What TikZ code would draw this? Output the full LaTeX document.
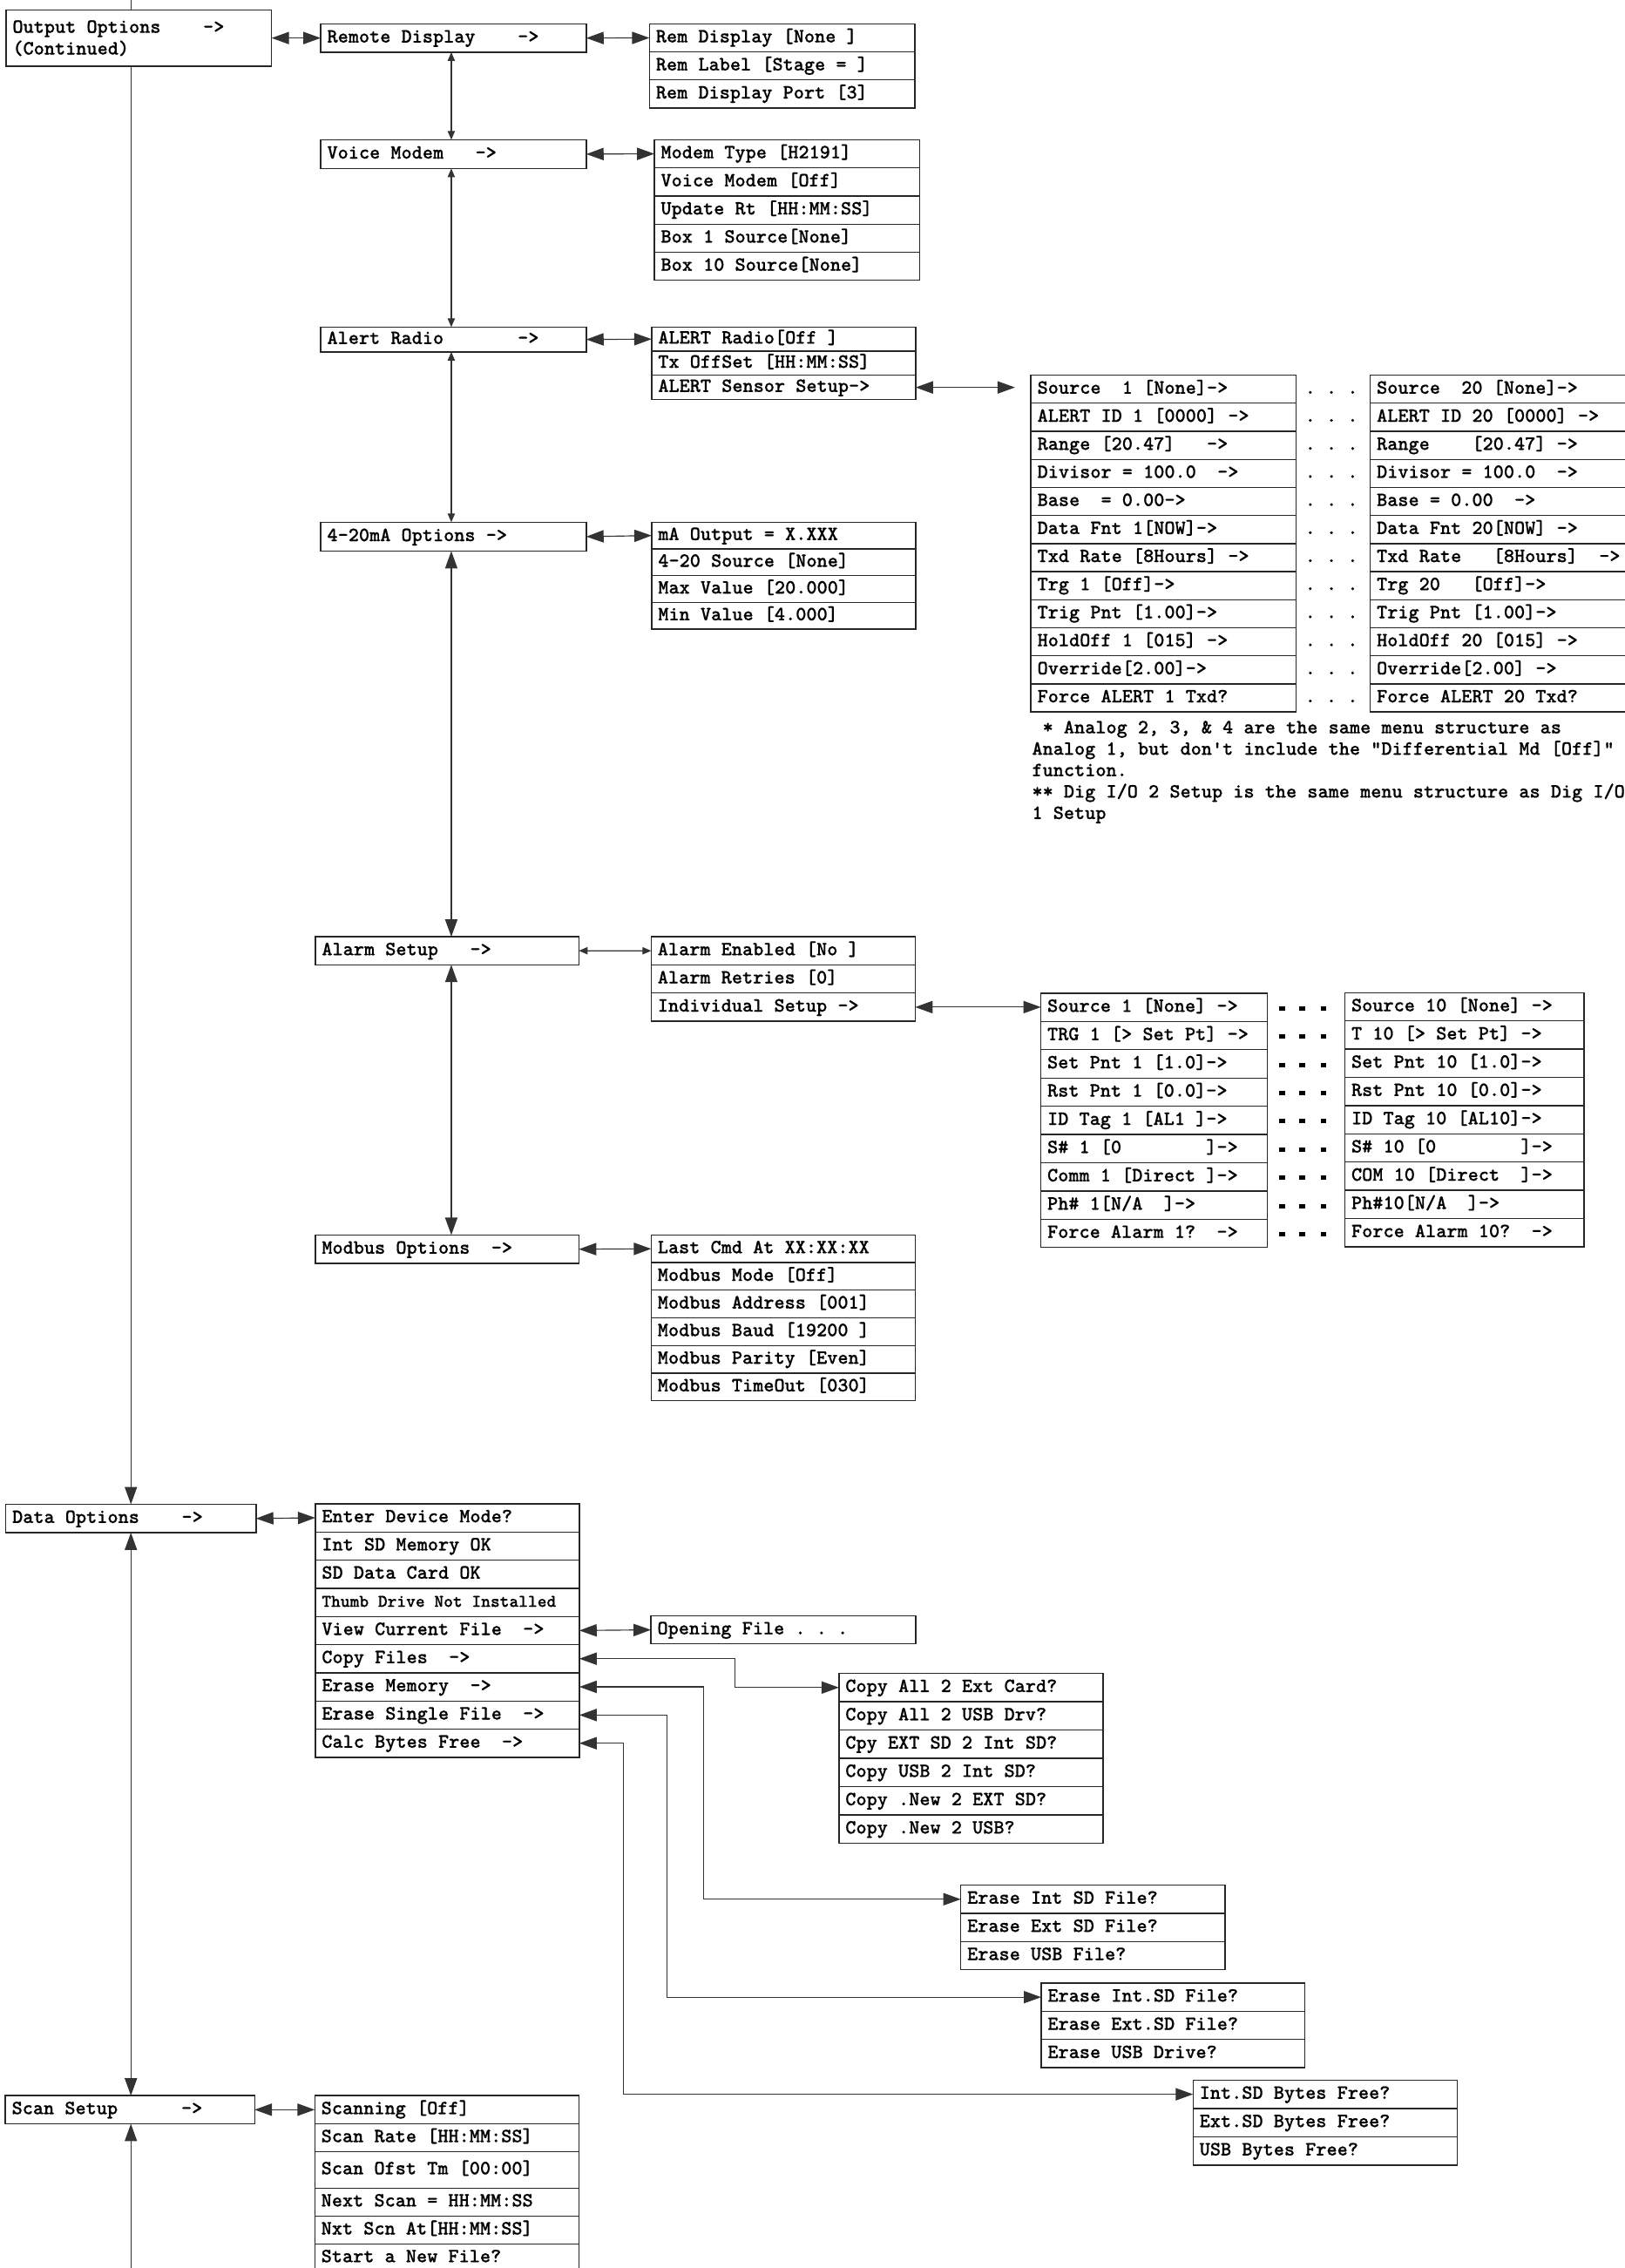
\documentclass[tikz,border=0pt]{standalone}
\usepackage{fontspec}
\setmonofont{lmmonolt10-regular.otf}[BoldFont=lmmonolt10-bold.otf, BoldFeatures={FakeBold=0.5},
  WordSpace={1,0,0}, PunctuationSpace=WordSpace]
\usepackage{tikz}
\usetikzlibrary{arrows.meta}
\pgfdeclarelayer{bg}
\pgfsetlayers{bg,main}
\newcommand\menufont{\ttfamily\bfseries\fontsize{13.94pt}{15pt}\selectfont\frenchspacing}

\begin{document}
\begin{tikzpicture}[x=1pt, y=-1pt,
  menu/.style={draw=black!85, line width=0.8pt, outer sep=0pt, anchor=north west,
    inner xsep=4.5pt, inner ysep=0pt, font=\menufont, align=left, text width=174pt,
    execute at begin node={\spaceskip=0pt\xspaceskip=0pt}},
  cell/.style={menu, minimum height=#1, text height=8.6pt, text depth=2.4pt},
  cell/.default=19.4pt,
  dots/.style={font=\menufont, inner sep=0pt, text height=8.6pt, text depth=2.4pt},
  note/.style={font=\menufont, anchor=base west, inner sep=0pt},
  link/.style={draw=black!80, line width=0.7pt},
  twoway/.style={link, arrows={Triangle[length=12pt,width=8.5pt]-Triangle[length=12pt,width=8.5pt]}},
  twowaysm/.style={link, arrows={Triangle[length=6pt,width=5pt]-Triangle[length=6pt,width=5pt]}},
  intip/.style={link, arrows={-Triangle[length=12pt,width=8.5pt]}},
  outtip/.style={link, arrows={Triangle[length=12pt,width=8.5pt]-}}]

        \useasboundingbox (0,0) rectangle (1123,1568);

        % main column
        \node (outopt) [menu, minimum height=38.8pt, text width=174.6pt] at (4.2, 7) {Output Options~~~~->\\(Continued)};
        \node (dataopt) [cell=19.6pt, text width=164pt] at (4, 1040) {Data Options~~~~->};
        \node (scanopt) [cell=19.5pt, text width=163.3pt] at (3.7, 1448.8) {Scan Setup~~~~~~->};
        \coordinate (trunk) at (90.5, 0);
        \coordinate (trunkend) at (90.5, 1568);

        % output options sub menus
        \node (remdisp) [cell=19.6pt, text width=174.6pt] at (221.7, 16.5) {Remote Display~~~~->};
        \node (vmodem) [cell=19.9pt, text width=174.6pt] at (221.7, 96.6) {Voice Modem~~~->};
        \node (aradio) [cell=17.2pt, text width=174.6pt] at (221.7, 226.1) {Alert Radio~~~~~~~->};
        \node (maopt) [cell=20pt, text width=174.6pt] at (221.7, 361) {4-20mA Options ->};
        \node (alarm) [cell=19.4pt, text width=173.2pt] at (218, 647.6) {Alarm Setup~~~->};
        \node (modbus) [cell=19.7pt, text width=173.2pt] at (218, 853.8) {Modbus Options~~->};
        \coordinate (spine) at (312, 0);

        % remote display
        \node (rem1) [cell, text width=174.5pt] at (449, 16.5) {Rem Display [None ]};
        \node (rem2) [cell, text width=174.5pt] at (rem1.south west) {Rem Label [Stage = ]};
        \node (rem3) [cell, text width=174.5pt] at (rem2.south west) {Rem Display Port [3]};

        % voice modem
        \node (vm1) [cell=19.44pt, text width=174.6pt] at (452.4, 96.6) {Modem Type [H2191]};
        \node (vm2) [cell=19.44pt, text width=174.6pt] at (vm1.south west) {Voice Modem [Off]};
        \node (vm3) [cell=19.44pt, text width=174.6pt] at (vm2.south west) {Update Rt [HH:MM:SS]};
        \node (vm4) [cell=19.44pt, text width=174.6pt] at (vm3.south west) {Box 1 Source[None]};
        \node (vm5) [cell=19.44pt, text width=174.6pt] at (vm4.south west) {Box 10 Source[None]};

        % alert radio
        \node (ar1) [cell=16.7pt, text width=173.5pt] at (450.5, 226.1) {ALERT Radio[Off ]};
        \node (ar2) [cell=16.7pt, text width=173.5pt] at (ar1.south west) {Tx OffSet [HH:MM:SS]};
        \node (ar3) [cell=16.7pt, text width=173.5pt] at (ar2.south west) {ALERT Sensor Setup->};

        % 4-20mA
        \node (ma1) [cell=18.5pt, text width=173.5pt] at (450.5, 361) {mA Output = X.XXX};
        \node (ma2) [cell=18.5pt, text width=173.5pt] at (ma1.south west) {4-20 Source [None]};
        \node (ma3) [cell=18.5pt, text width=173.5pt] at (ma2.south west) {Max Value [20.000]};
        \node (ma4) [cell=18.5pt, text width=173.5pt] at (ma3.south west) {Min Value [4.000]};

        % alarm setup
        \node (al1) [cell=19.47pt, text width=173.5pt] at (450.2, 647.6) {Alarm Enabled [No ]};
        \node (al2) [cell=19.47pt, text width=173.5pt] at (al1.south west) {Alarm Retries [0]};
        \node (al3) [cell=19.47pt, text width=173.5pt] at (al2.south west) {Individual Setup ->};

        % modbus
        \node (mb1) [cell=19.1pt, text width=173.5pt] at (450.2, 853.8) {Last Cmd At XX:XX:XX};
        \node (mb2) [cell=19.1pt, text width=173.5pt] at (mb1.south west) {Modbus Mode [Off]};
        \node (mb3) [cell=19.1pt, text width=173.5pt] at (mb2.south west) {Modbus Address [001]};
        \node (mb4) [cell=19.1pt, text width=173.5pt] at (mb3.south west) {Modbus Baud [19200 ]};
        \node (mb5) [cell=19.1pt, text width=173.5pt] at (mb4.south west) {Modbus Parity [Even]};
        \node (mb6) [cell=19.1pt, text width=173.5pt] at (mb5.south west) {Modbus TimeOut [030]};

        % alert sensors 1
        \node (sl1) [cell, text width=174.3pt] at (712.7, 259.4) {Source~~1 [None]->};
        \node (sl2) [cell, text width=174.3pt] at (sl1.south west) {ALERT ID 1 [0000] ->};
        \node (sl3) [cell, text width=174.3pt] at (sl2.south west) {Range [20.47]~~~->};
        \node (sl4) [cell, text width=174.3pt] at (sl3.south west) {Divisor = 100.0~~->};
        \node (sl5) [cell, text width=174.3pt] at (sl4.south west) {Base~~= 0.00->};
        \node (sl6) [cell, text width=174.3pt] at (sl5.south west) {Data Fnt 1[NOW]->};
        \node (sl7) [cell, text width=174.3pt] at (sl6.south west) {Txd Rate [8Hours] ->};
        \node (sl8) [cell, text width=174.3pt] at (sl7.south west) {Trg 1 [Off]->};
        \node (sl9) [cell, text width=174.3pt] at (sl8.south west) {Trig Pnt [1.00]->};
        \node (sl10) [cell, text width=174.3pt] at (sl9.south west) {HoldOff 1 [015] ->};
        \node (sl11) [cell, text width=174.3pt] at (sl10.south west) {Override[2.00]->};
        \node (sl12) [cell, text width=174.3pt] at (sl11.south west) {Force ALERT 1 Txd?};

        % alert sensors 20
        \node (sr1) [cell, text width=181pt] at (947.3, 259.4) {Source~~20 [None]->};
        \node (sr2) [cell, text width=181pt] at (sr1.south west) {ALERT ID 20 [0000] ->};
        \node (sr3) [cell, text width=181pt] at (sr2.south west) {Range~~~~[20.47] ->};
        \node (sr4) [cell, text width=181pt] at (sr3.south west) {Divisor = 100.0~~->};
        \node (sr5) [cell, text width=181pt] at (sr4.south west) {Base = 0.00~~->};
        \node (sr6) [cell, text width=181pt] at (sr5.south west) {Data Fnt 20[NOW] ->};
        \node (sr7) [cell, text width=181pt] at (sr6.south west) {Txd Rate~~~[8Hours]~~->};
        \node (sr8) [cell, text width=181pt] at (sr7.south west) {Trg 20~~~[Off]->};
        \node (sr9) [cell, text width=181pt] at (sr8.south west) {Trig Pnt [1.00]->};
        \node (sr10) [cell, text width=181pt] at (sr9.south west) {HoldOff 20 [015] ->};
        \node (sr11) [cell, text width=181pt] at (sr10.south west) {Override[2.00] ->};
        \node (sr12) [cell, text width=181pt] at (sr11.south west) {Force ALERT 20 Txd?};
        \foreach \i in {1,...,12}
                \node (sdot\i) [dots] at (920.5, {259.4+19.4*\i-9.7}) {. . .};

        \node (note1) [note] at (713.3, 507) {~* Analog 2, 3, \& 4 are the same menu structure as};
        \node (note2) [note] at (713.3, 521.8) {Analog 1, but don't include the "Differential Md [Off]"};
        \node (note3) [note] at (713.3, 536.6) {function.};
        \node (note4) [note] at (713.3, 551.4) {** Dig I/O 2 Setup is the same menu structure as Dig I/O};
        \node (note5) [note] at (713.3, 566.2) {1 Setup};

        % individual alarms 1
        \node (il1) [cell=19.53pt, text width=147.4pt] at (719.6, 686.7) {Source 1 [None] ->};
        \node (il2) [cell=19.53pt, text width=147.4pt] at (il1.south west) {TRG 1 [> Set Pt] ->};
        \node (il3) [cell=19.53pt, text width=147.4pt] at (il2.south west) {Set Pnt 1 [1.0]->};
        \node (il4) [cell=19.53pt, text width=147.4pt] at (il3.south west) {Rst Pnt 1 [0.0]->};
        \node (il5) [cell=19.53pt, text width=147.4pt] at (il4.south west) {ID Tag 1 [AL1 ]->};
        \node (il6) [cell=19.53pt, text width=147.4pt] at (il5.south west) {S\# 1 [0~~~~~~~~]->};
        \node (il7) [cell=19.53pt, text width=147.4pt] at (il6.south west) {Comm 1 [Direct ]->};
        \node (il8) [cell=19.53pt, text width=147.4pt] at (il7.south west) {Ph\# 1[N/A~~]->};
        \node (il9) [cell=19.53pt, text width=147.4pt] at (il8.south west) {Force Alarm 1?~~->};

        % individual alarms 10
        \node (ir1) [cell=19.52pt, text width=156.4pt] at (929.8, 686.3) {Source 10 [None] ->};
        \node (ir2) [cell=19.52pt, text width=156.4pt] at (ir1.south west) {T 10 [> Set Pt] ->};
        \node (ir3) [cell=19.52pt, text width=156.4pt] at (ir2.south west) {Set Pnt 10 [1.0]->};
        \node (ir4) [cell=19.52pt, text width=156.4pt] at (ir3.south west) {Rst Pnt 10 [0.0]->};
        \node (ir5) [cell=19.52pt, text width=156.4pt] at (ir4.south west) {ID Tag 10 [AL10]->};
        \node (ir6) [cell=19.52pt, text width=156.4pt] at (ir5.south west) {S\# 10 [0~~~~~~~~]->};
        \node (ir7) [cell=19.52pt, text width=156.4pt] at (ir6.south west) {COM 10 [Direct~~]->};
        \node (ir8) [cell=19.52pt, text width=156.4pt] at (ir7.south west) {Ph\#10[N/A~~]->};
        \node (ir9) [cell=19.52pt, text width=156.4pt] at (ir8.south west) {Force Alarm 10?~~->};
        \foreach \i in {1,...,9}
                \foreach \dx in {886.2,900.4,915}
                        \fill (\dx-2, {686.5+19.5*\i-9.75-0.5}) rectangle ++(4,3);

        % data options
        \node (d1) [cell=19.48pt, text width=173.5pt] at (218, 1039.6) {Enter Device Mode?};
        \node (d2) [cell=19.48pt, text width=173.5pt] at (d1.south west) {Int SD Memory OK};
        \node (d3) [cell=19.48pt, text width=173.5pt] at (d2.south west) {SD Data Card OK};
        \node (d4) [cell=19.48pt, text width=173.5pt] at (d3.south west) {\fontsize{12.34pt}{13pt}\selectfont Thumb Drive Not Installed};
        \node (d5) [cell=19.48pt, text width=173.5pt] at (d4.south west) {View Current File~~->};
        \node (d6) [cell=19.48pt, text width=173.5pt] at (d5.south west) {Copy Files~~->};
        \node (d7) [cell=19.48pt, text width=173.5pt] at (d6.south west) {Erase Memory~~->};
        \node (d8) [cell=19.48pt, text width=173.5pt] at (d7.south west) {Erase Single File~~->};
        \node (d9) [cell=19.48pt, text width=173.5pt] at (d8.south west) {Calc Bytes Free~~->};
        \node (openf) [cell, text width=174pt] at (450, 1117.1) {Opening File . . .};

        \node (c1) [cell=19.57pt, text width=173.6pt] at (580, 1156.9) {Copy All 2 Ext Card?};
        \node (c2) [cell=19.57pt, text width=173.6pt] at (c1.south west) {Copy All 2 USB Drv?};
        \node (c3) [cell=19.57pt, text width=173.6pt] at (c2.south west) {Cpy EXT SD 2 Int SD?};
        \node (c4) [cell=19.57pt, text width=173.6pt] at (c3.south west) {Copy USB 2 Int SD?};
        \node (c5) [cell=19.57pt, text width=173.6pt] at (c4.south west) {Copy .New 2 EXT SD?};
        \node (c6) [cell=19.57pt, text width=173.6pt] at (c5.south west) {Copy .New 2 USB?};

        \node (e1) [cell=19.47pt, text width=173.7pt] at (664.2, 1303.3) {Erase Int SD File?};
        \node (e2) [cell=19.47pt, text width=173.7pt] at (e1.south west) {Erase Ext SD File?};
        \node (e3) [cell=19.47pt, text width=173.7pt] at (e2.south west) {Erase USB File?};

        \node (f1) [cell=19.5pt, text width=173.2pt] at (719.8, 1371) {Erase Int.SD File?};
        \node (f2) [cell=19.5pt, text width=173.2pt] at (f1.south west) {Erase Ext.SD File?};
        \node (f3) [cell=19.5pt, text width=173.2pt] at (f2.south west) {Erase USB Drive?};

        \node (b1) [cell=19.57pt, text width=173.7pt] at (824.8, 1438.1) {Int.SD Bytes Free?};
        \node (b2) [cell=19.57pt, text width=173.7pt] at (b1.south west) {Ext.SD Bytes Free?};
        \node (b3) [cell=19.57pt, text width=173.7pt] at (b2.south west) {USB Bytes Free?};
        \coordinate (cpx) at (508, 0);
        \coordinate (emx) at (486.6, 0);
        \coordinate (esx) at (461, 0);
        \coordinate (cbx) at (431, 0);

        % scan setup
        \node (s1) [cell=19.5pt, text width=173.6pt] at (217.6, 1448.8) {Scanning [Off]};
        \node (s2) [cell=19.2pt, text width=173.6pt] at (s1.south west) {Scan Rate [HH:MM:SS]};
        \node (s3) [cell=25.2pt, text width=173.6pt] at (s2.south west) {Scan Ofst Tm [00:00]};
        \node (s4) [cell=19.3pt, text width=173.6pt] at (s3.south west) {Next Scan = HH:MM:SS};
        \node (s5) [cell=19.4pt, text width=173.6pt] at (s4.south west) {Nxt Scn At[HH:MM:SS]};
        \node (s6) [cell=19pt, text width=173.6pt] at (s5.south west) {Start a New File?};

        \begin{pgfonlayer}{bg}
                \draw (trunk) edge [link] (outopt.north -| trunk);
                \draw (outopt.south -| trunk) edge [intip] (dataopt.north -| trunk);
                \draw (dataopt.south -| trunk) edge [twoway] (scanopt.north -| trunk);
                \draw (scanopt.south -| trunk) edge [outtip] (trunkend);
                \draw (outopt.east |- remdisp.west) edge [twoway] (remdisp.west);
                \draw (dataopt.east) edge [twoway] (d1.west);
                \draw (scanopt.east) edge [twoway] (s1.west);
                \draw (remdisp.south -| spine) edge [twowaysm] (vmodem.north -| spine);
                \draw (vmodem.south -| spine) edge [twowaysm] (aradio.north -| spine);
                \draw (aradio.south -| spine) edge [twowaysm] (maopt.north -| spine);
                \draw (maopt.south -| spine) edge [twoway] (alarm.north -| spine);
                \draw (alarm.south -| spine) edge [twoway] (modbus.north -| spine);
                \draw (remdisp.east) edge [twoway] (rem1.west);
                \draw (vmodem.east) edge [twoway] (vm1.west);
                \draw (aradio.east) edge [twoway] (ar1.west);
                \draw (maopt.east) edge [twoway] (ma1.west);
                \draw (alarm.east) edge [twowaysm] (al1.west);
                \draw (modbus.east) edge [twoway] (mb1.west);
                \draw (ar3.east) edge [twoway, shorten >=11pt] (ar3.east -| sl1.west);
                \draw (al3.east) edge [twoway] (al3.east -| il1.west);
                \draw (d5.east) edge [twoway] (openf.west);
                \draw [twoway] (d6.east) -- (d6.east -| cpx) |- (c1.west);
                \draw [twoway] (d7.east) -- (d7.east -| emx) |- (e1.west);
                \draw [twoway] (d8.east) -- (d8.east -| esx) |- (f1.west);
                \draw [twoway] (d9.east) -- (d9.east -| cbx) |- (b1.west);
        \end{pgfonlayer}
\end{tikzpicture}
\end{document}
